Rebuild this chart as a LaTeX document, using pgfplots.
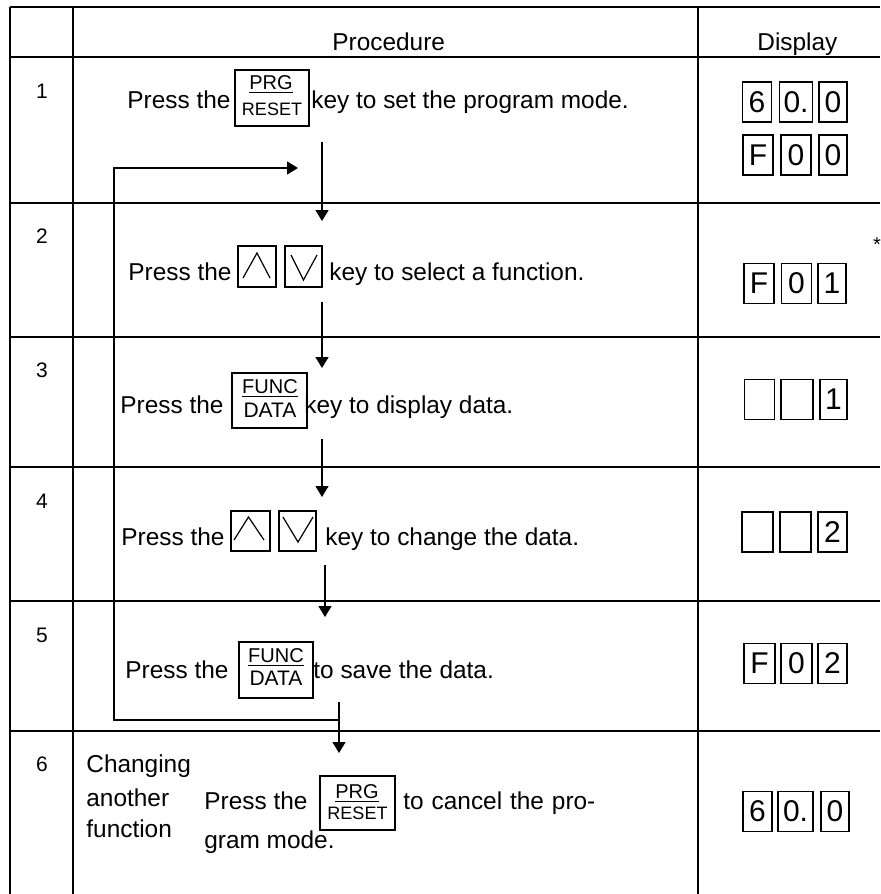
\documentclass[border=0pt]{standalone}
\usepackage{pgfplots}
\pgfplotsset{compat=1.18}
\usepackage{fontspec}
\setmainfont{Liberation Sans}
\usetikzlibrary{arrows.meta}
\begin{document}
\begin{tikzpicture}[
  dbox/.style={draw, line width=0.8pt, minimum height=20pt, inner sep=0pt, font=\fontsize{15}{15}\selectfont},
  kbox/.style={draw, line width=0.8pt, inner sep=0pt},
  txt/.style={anchor=base west, inner sep=0pt, font=\fontsize{12.2}{14}\selectfont},
  num/.style={anchor=base, inner sep=0pt, font=\fontsize{10.5}{12}\selectfont},
  ktop/.style={anchor=base, inner sep=0pt, font=\fontsize{10}{10}\selectfont},
  kbot/.style={anchor=base, inner sep=0pt, font=\fontsize{9}{9}\selectfont},
  arr/.style={line width=0.7pt, -{Triangle[width=6.5pt,length=5.5pt]}},
]
\begin{axis}[scale only axis, width=440pt, height=447pt,
  xmin=0, xmax=880, ymin=0, ymax=894, y dir=reverse,
  hide axis, clip=false]
% ---- table grid ----
\addplot[line width=0.85pt] coordinates {(10,7) (880,7)};
\addplot[line width=0.85pt] coordinates {(10,57) (880,57)};
\addplot[line width=0.85pt] coordinates {(10,203) (880,203)};
\addplot[line width=0.85pt] coordinates {(10,337) (880,337)};
\addplot[line width=0.85pt] coordinates {(10,467) (880,467)};
\addplot[line width=0.85pt] coordinates {(10,601) (880,601)};
\addplot[line width=0.85pt] coordinates {(10,731) (880,731)};
\addplot[line width=0.85pt] coordinates {(10,7) (10,894)};
\addplot[line width=0.85pt] coordinates {(73,7) (73,894)};
\addplot[line width=0.85pt] coordinates {(698,7) (698,894)};
% ---- flow arrows ----
\addplot[arr] coordinates {(322,142) (322,221)};
\addplot[arr] coordinates {(322,302) (322,368)};
\addplot[arr] coordinates {(322,439) (322,497)};
\addplot[arr] coordinates {(325,565) (325,617)};
\addplot[arr] coordinates {(339,702) (339,753)};
\addplot[arr, line join=miter] coordinates {(339,720) (114,720) (114,168) (298,168)};
% ---- header ----
\node[txt] at (332,50) {Procedure};
\node[txt] at (757,50) {Display};
% ---- row numbers ----
\node[num] at (42,98) {1};
\node[num] at (42,243) {2};
\node[num] at (42,377) {3};
\node[num] at (42,508) {4};
\node[num] at (42,642) {5};
\node[num] at (42,771) {6};
% ---- row 1 ----
\node[txt] at (127,108) {Press the};
\node[kbox, minimum width=37pt, minimum height=28pt] at (272,98) {};
\node[ktop] at (271,89) {\underline{PRG}};
\node[kbot] at (272,115) {RESET};
\node[txt] at (311,108) {key to set the program mode.};
\node[dbox, minimum width=14.5pt] at (757,102) {6};
\node[dbox, minimum width=16.5pt] at (796,102) {0.};
\node[dbox, minimum width=14pt] at (833,102) {0};
\node[dbox, minimum width=15pt] at (758,155) {F};
\node[dbox, minimum width=15pt] at (796,155) {0};
\node[dbox, minimum width=14pt] at (833,155) {0};
% ---- row 2 ----
\node[txt] at (128,280) {Press the};
\node[kbox, minimum width=19pt, minimum height=20.5pt] at (257,266.5) {};
\draw[line width=0.6pt] (243,278) -- (257,253) -- (270,278);
\node[kbox, minimum width=18.5pt, minimum height=20.5pt] at (303.5,266.5) {};
\draw[line width=0.6pt] (291,255) -- (303.5,280) -- (317,255);
\node[txt] at (329,280) {key to select a function.};
\node[dbox, minimum width=15pt] at (759,283.5) {F};
\node[dbox, minimum width=15pt] at (796.5,283.5) {0};
\node[dbox, minimum width=14pt] at (832,283.5) {1};
\node[anchor=center, inner sep=0pt, font=\fontsize{10}{10}\selectfont] at (877,245) {*};
% ---- row 3 ----
\node[txt] at (120,413) {Press the};
\node[kbox, minimum width=37.5pt, minimum height=27.5pt] at (269.5,400.5) {};
\node[ktop] at (270,393) {\underline{FUNC}};
\node[ktop, font=\fontsize{10.5}{10.5}\selectfont] at (270,417) {DATA};
\node[txt] at (304,413) {key to display data.};
\node[dbox, minimum width=15pt] at (759.5,399.5) {};
\node[dbox, minimum width=16pt] at (797,399.5) {};
\node[dbox, minimum width=13.5pt] at (833.5,399.5) {1};
% ---- row 4 ----
\node[txt] at (121,545) {Press the};
\node[kbox, minimum width=19.5pt, minimum height=20pt] at (250.5,531) {};
\draw[line width=0.6pt] (234,540) -- (248.5,517) -- (264,540);
\node[kbox, minimum width=18.5pt, minimum height=20pt] at (297.5,531) {};
\draw[line width=0.6pt] (283,517) -- (298,542) -- (313,517);
\node[txt] at (325,545) {key to change the data.};
\node[dbox, minimum width=15.5pt] at (757.5,532) {};
\node[dbox, minimum width=15.5pt] at (795.5,532) {};
\node[dbox, minimum width=14.5pt] at (832.5,532) {2};
% ---- row 5 ----
\node[txt] at (125,678) {Press the};
\node[kbox, minimum width=37pt, minimum height=28pt] at (276,670) {};
\node[ktop] at (276,662) {\underline{FUNC}};
\node[ktop, font=\fontsize{10.5}{10.5}\selectfont] at (276,685) {DATA};
\node[txt] at (313,678) {to save the data.};
\node[dbox, minimum width=15.5pt] at (759.5,663.5) {F};
\node[dbox, minimum width=15.5pt] at (796.5,663.5) {0};
\node[dbox, minimum width=14.5pt] at (832.5,663.5) {2};
% ---- row 6 ----
\node[txt] at (86,772) {Changing};
\node[txt] at (86,806) {another};
\node[txt] at (86,837) {function};
\node[txt] at (204,809) {Press the};
\node[kbox, minimum width=37.5pt, minimum height=27pt] at (357.5,803) {};
\node[ktop] at (357,798) {\underline{PRG}};
\node[kbot] at (357.5,819) {RESET};
\node[txt] at (403,809) {\makebox[96pt][s]{to cancel the pro-}};
\node[txt] at (204,848) {gram mode.};
\node[dbox, minimum width=14.5pt] at (757.5,811.5) {6};
\node[dbox, minimum width=17.5pt] at (795.5,811.5) {0.};
\node[dbox, minimum width=14pt] at (835,811.5) {0};
\end{axis}
\pgfresetboundingbox
\path (current axis.south west) rectangle (current axis.north east);
\end{tikzpicture}
\end{document}
